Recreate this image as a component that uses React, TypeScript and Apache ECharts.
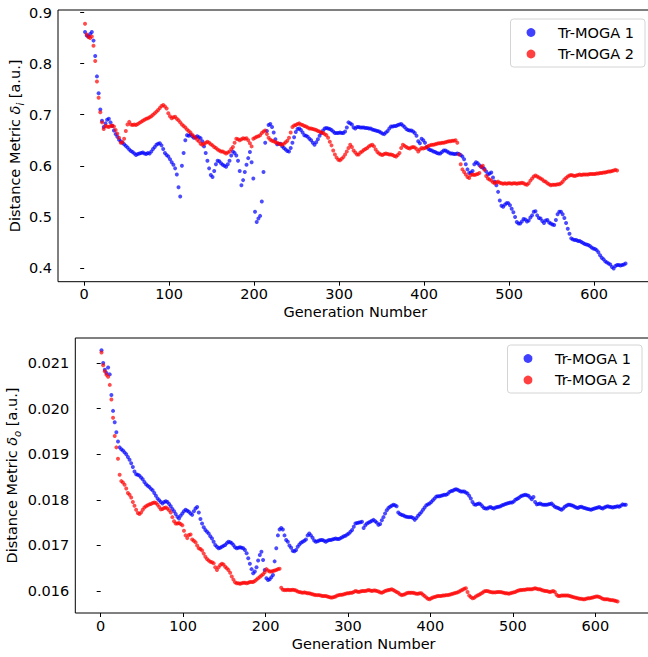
import React, { useEffect, useRef } from "react";
import * as echarts from "echarts";

// generations are sampled every GEN_STEP starting at GEN_START
const GEN_START = 1;
const GEN_STEP = 2;
const SERIES_NAMES = ["Tr-MOGA 1", "Tr-MOGA 2"];
const X_TICKS = [0, 100, 200, 300, 400, 500, 600];
const TOP_Y_TICKS = [0.4, 0.5, 0.6, 0.7, 0.8, 0.9];
const BOTTOM_Y_TICKS = [0.016, 0.017, 0.018, 0.019, 0.02, 0.021];

// Distance metric delta_i, Tr-MOGA 1 (gens 1..637, step 2)
const deltaI_moga1 = [
  0.862, 0.855, 0.853, 0.858, 0.862, 0.845, 0.815, 0.775, 0.742, 0.710,
  0.688, 0.676, 0.683, 0.690, 0.692, 0.685, 0.678, 0.669, 0.662, 0.657,
  0.651, 0.648, 0.645, 0.642, 0.639, 0.636, 0.632, 0.629, 0.627, 0.624,
  0.621, 0.623, 0.624, 0.625, 0.626, 0.624, 0.623, 0.625, 0.624, 0.628,
  0.633, 0.637, 0.641, 0.643, 0.644, 0.640, 0.633, 0.625, 0.621, 0.618,
  0.613, 0.607, 0.602, 0.595, 0.583, 0.558, 0.540, 0.600, 0.625, 0.650,
  0.660, 0.659, 0.661, 0.658, 0.655, 0.656, 0.658, 0.656, 0.654, 0.648,
  0.638, 0.625, 0.610, 0.595, 0.582, 0.578, 0.590, 0.603, 0.610, 0.609,
  0.605, 0.602, 0.600, 0.598, 0.603, 0.610, 0.620, 0.628, 0.625, 0.620,
  0.610, 0.590, 0.562, 0.572, 0.588, 0.602, 0.615, 0.627, 0.607, 0.575,
  0.510, 0.490, 0.497, 0.502, 0.530, 0.588, 0.645, 0.668, 0.680, 0.682,
  0.676, 0.665, 0.652, 0.642, 0.643, 0.643, 0.638, 0.635, 0.632, 0.629,
  0.628, 0.635, 0.645, 0.656, 0.666, 0.672, 0.673, 0.670, 0.665, 0.660,
  0.659, 0.657, 0.653, 0.650, 0.645, 0.641, 0.646, 0.652, 0.659, 0.664,
  0.669, 0.673, 0.674, 0.673, 0.672, 0.670, 0.667, 0.664, 0.664, 0.664,
  0.665, 0.664, 0.664, 0.667, 0.675, 0.685, 0.683, 0.681, 0.675, 0.673,
  0.676, 0.676, 0.675, 0.675, 0.675, 0.674, 0.674, 0.673, 0.673, 0.671,
  0.670, 0.669, 0.668, 0.667, 0.665, 0.663, 0.662, 0.665, 0.668, 0.673,
  0.677, 0.677, 0.678, 0.678, 0.680, 0.681, 0.682, 0.679, 0.676, 0.672,
  0.670, 0.669, 0.669, 0.667, 0.664, 0.659, 0.648, 0.644, 0.653, 0.650,
  0.645, 0.637, 0.633, 0.631, 0.630, 0.628, 0.627, 0.625, 0.624, 0.624,
  0.627, 0.630, 0.630, 0.628, 0.626, 0.624, 0.624, 0.623, 0.623, 0.624,
  0.623, 0.621, 0.618, 0.613, 0.603, 0.593, 0.586, 0.587, 0.590, 0.603,
  0.607, 0.605, 0.601, 0.598, 0.596, 0.594, 0.589, 0.583, 0.585, 0.587,
  0.577, 0.569, 0.562, 0.549, 0.532, 0.522, 0.520, 0.524, 0.527, 0.527,
  0.523, 0.516, 0.509, 0.500, 0.490, 0.487, 0.487, 0.491, 0.496, 0.495,
  0.491, 0.493, 0.499, 0.503, 0.510, 0.511, 0.503, 0.498, 0.497, 0.492,
  0.488, 0.493, 0.494, 0.489, 0.487, 0.485, 0.484, 0.494, 0.505, 0.510,
  0.510, 0.505, 0.498, 0.488, 0.477, 0.467, 0.458, 0.456, 0.455, 0.455,
  0.453, 0.453, 0.451, 0.449, 0.447, 0.446, 0.445, 0.443, 0.440, 0.438,
  0.437, 0.435, 0.431, 0.425, 0.420, 0.417, 0.413, 0.411, 0.409, 0.407,
  0.402, 0.399, 0.404, 0.406, 0.406, 0.405, 0.406, 0.407, 0.409,
];

// Distance metric delta_i, Tr-MOGA 2 (gens 1..627, step 2)
const deltaI_moga2 = [
  0.878, 0.857, 0.852, 0.850, 0.853, 0.835, 0.805, 0.765, 0.733, 0.705,
  0.685, 0.672, 0.678, 0.677, 0.676, 0.678, 0.679, 0.677, 0.670, 0.663,
  0.655, 0.645, 0.646, 0.653, 0.668, 0.681, 0.686, 0.681, 0.680, 0.681,
  0.680, 0.682, 0.684, 0.686, 0.688, 0.690, 0.692, 0.693, 0.695, 0.697,
  0.700, 0.703, 0.706, 0.709, 0.713, 0.717, 0.719, 0.716, 0.712, 0.703,
  0.697, 0.693, 0.695, 0.696, 0.692, 0.689, 0.685, 0.681, 0.678, 0.675,
  0.671, 0.668, 0.665, 0.661, 0.658, 0.655, 0.651, 0.648, 0.643, 0.641,
  0.643, 0.645, 0.647, 0.645, 0.642, 0.640, 0.637, 0.635, 0.632, 0.630,
  0.628, 0.628, 0.626, 0.624, 0.626, 0.628, 0.633, 0.637, 0.645, 0.653,
  0.652, 0.650, 0.652, 0.654, 0.653, 0.654, 0.650, 0.644, 0.638, 0.653,
  0.655, 0.657, 0.658, 0.660, 0.664, 0.667, 0.669, 0.662, 0.655, 0.651,
  0.649, 0.648, 0.646, 0.645, 0.643, 0.642, 0.641, 0.643, 0.646, 0.649,
  0.655, 0.665, 0.676, 0.679, 0.680, 0.682, 0.683, 0.681, 0.680, 0.678,
  0.677, 0.675, 0.673, 0.673, 0.672, 0.671, 0.670, 0.668, 0.667, 0.665,
  0.664, 0.662, 0.660, 0.655, 0.647, 0.640, 0.630, 0.622, 0.616, 0.612,
  0.611, 0.614, 0.617, 0.622, 0.628, 0.635, 0.641, 0.637, 0.630, 0.626,
  0.622, 0.622, 0.626, 0.628, 0.631, 0.633, 0.635, 0.638, 0.640, 0.641,
  0.638, 0.632, 0.627, 0.624, 0.622, 0.621, 0.623, 0.624, 0.623, 0.622,
  0.622, 0.621, 0.619, 0.618, 0.621, 0.625, 0.635, 0.641, 0.639, 0.637,
  0.635, 0.634, 0.636, 0.637, 0.636, 0.633, 0.628, 0.632, 0.635, 0.634,
  0.635, 0.637, 0.639, 0.640, 0.641, 0.641, 0.642, 0.643, 0.644, 0.644,
  0.645, 0.645, 0.646, 0.647, 0.648, 0.648, 0.649, 0.649, 0.650, 0.645,
  0.622, 0.603, 0.593, 0.588, 0.583, 0.578, 0.576, 0.582, 0.583, 0.582,
  0.583, 0.584, 0.586, 0.598, 0.600, 0.592, 0.580, 0.575, 0.573, 0.571,
  0.568, 0.566, 0.568, 0.569, 0.567, 0.566, 0.565, 0.566, 0.565, 0.566,
  0.566, 0.565, 0.566, 0.566, 0.565, 0.566, 0.566, 0.567, 0.566, 0.564,
  0.563, 0.566, 0.571, 0.575, 0.579, 0.581, 0.579, 0.577, 0.575, 0.573,
  0.570, 0.569, 0.566, 0.564, 0.562, 0.563, 0.563, 0.563, 0.564, 0.564,
  0.566, 0.569, 0.573, 0.576, 0.579, 0.581, 0.582, 0.581, 0.580, 0.581,
  0.582, 0.583, 0.582, 0.583, 0.583, 0.583, 0.583, 0.584, 0.584, 0.584,
  0.584, 0.585, 0.585, 0.586, 0.586, 0.587, 0.587, 0.588, 0.589, 0.589,
  0.590, 0.591, 0.592, 0.591,
];

// Distance metric delta_o, Tr-MOGA 1 (gens 1..637, step 2)
const deltaO_moga1 = [
  0.02128, 0.02100, 0.02085, 0.02078, 0.02090, 0.02075, 0.02030, 0.01995, 0.01970, 0.01948,
  0.01928, 0.01915, 0.01911, 0.01908, 0.01904, 0.01900, 0.01894, 0.01888, 0.01880, 0.01872,
  0.01862, 0.01856, 0.01855, 0.01853, 0.01849, 0.01845, 0.01839, 0.01834, 0.01831, 0.01828,
  0.01824, 0.01821, 0.01815, 0.01809, 0.01803, 0.01799, 0.01795, 0.01792, 0.01795, 0.01797,
  0.01795, 0.01791, 0.01786, 0.01780, 0.01775, 0.01769, 0.01763, 0.01759, 0.01765, 0.01770,
  0.01775, 0.01778, 0.01776, 0.01774, 0.01770, 0.01767, 0.01775, 0.01781, 0.01784, 0.01772,
  0.01758, 0.01748, 0.01740, 0.01734, 0.01730, 0.01726, 0.01720, 0.01715, 0.01708, 0.01701,
  0.01697, 0.01694, 0.01695, 0.01697, 0.01699, 0.01701, 0.01705, 0.01708, 0.01707, 0.01705,
  0.01701, 0.01696, 0.01694, 0.01695, 0.01696, 0.01695, 0.01694, 0.01690, 0.01683, 0.01672,
  0.01660, 0.01648, 0.01639, 0.01643, 0.01652, 0.01667, 0.01679, 0.01686, 0.01668, 0.01646,
  0.01628, 0.01624, 0.01626, 0.01630, 0.01635, 0.01665, 0.01694, 0.01722, 0.01735, 0.01738,
  0.01735, 0.01722, 0.01712, 0.01708, 0.01700, 0.01695, 0.01688, 0.01687, 0.01690, 0.01697,
  0.01702, 0.01706, 0.01708, 0.01710, 0.01713, 0.01722, 0.01726, 0.01722, 0.01717, 0.01711,
  0.01708, 0.01709, 0.01711, 0.01712, 0.01712, 0.01710, 0.01708, 0.01710, 0.01712, 0.01712,
  0.01713, 0.01714, 0.01715, 0.01714, 0.01714, 0.01716, 0.01718, 0.01720, 0.01721, 0.01724,
  0.01726, 0.01730, 0.01734, 0.01741, 0.01748, 0.01749, 0.01750, 0.01751, 0.01752, 0.01738,
  0.01744, 0.01748, 0.01750, 0.01752, 0.01754, 0.01756, 0.01753, 0.01750, 0.01745, 0.01747,
  0.01755, 0.01762, 0.01770, 0.01777, 0.01782, 0.01785, 0.01787, 0.01789, 0.01788, 0.01786,
  0.01772, 0.01769, 0.01767, 0.01766, 0.01764, 0.01763, 0.01762, 0.01762, 0.01762, 0.01760,
  0.01756, 0.01760, 0.01765, 0.01769, 0.01773, 0.01778, 0.01783, 0.01788, 0.01790, 0.01792,
  0.01795, 0.01799, 0.01803, 0.01807, 0.01808, 0.01808, 0.01809, 0.01810, 0.01811, 0.01811,
  0.01813, 0.01817, 0.01819, 0.01820, 0.01822, 0.01823, 0.01822, 0.01820, 0.01818, 0.01818,
  0.01818, 0.01816, 0.01814, 0.01809, 0.01803, 0.01795, 0.01790, 0.01789, 0.01791, 0.01792,
  0.01790, 0.01786, 0.01782, 0.01781, 0.01781, 0.01783, 0.01784, 0.01782, 0.01781, 0.01783,
  0.01784, 0.01785, 0.01786, 0.01788, 0.01789, 0.01791, 0.01792, 0.01793, 0.01794, 0.01794,
  0.01796, 0.01800, 0.01802, 0.01804, 0.01807, 0.01809, 0.01810, 0.01811, 0.01810, 0.01809,
  0.01805, 0.01801, 0.01806, 0.01795, 0.01790, 0.01791, 0.01792, 0.01790, 0.01789, 0.01789,
  0.01789, 0.01790, 0.01791, 0.01792, 0.01788, 0.01785, 0.01783, 0.01782, 0.01780, 0.01778,
  0.01781, 0.01785, 0.01787, 0.01789, 0.01789, 0.01788, 0.01787, 0.01785, 0.01783, 0.01782,
  0.01784, 0.01785, 0.01783, 0.01782, 0.01781, 0.01780, 0.01779, 0.01778, 0.01780, 0.01781,
  0.01782, 0.01783, 0.01784, 0.01782, 0.01781, 0.01783, 0.01785, 0.01786, 0.01785, 0.01784,
  0.01783, 0.01784, 0.01785, 0.01786, 0.01785, 0.01787, 0.01790, 0.01789, 0.01789,
];

// Distance metric delta_o, Tr-MOGA 2 (gens 1..627, step 2)
const deltaO_moga2 = [
  0.02123, 0.02095, 0.02082, 0.02074, 0.02070, 0.02052, 0.02020, 0.01980, 0.01940, 0.01915,
  0.01890, 0.01855, 0.01841, 0.01838, 0.01833, 0.01825, 0.01815, 0.01811, 0.01805, 0.01795,
  0.01787, 0.01778, 0.01771, 0.01769, 0.01772, 0.01778, 0.01783, 0.01786, 0.01788, 0.01790,
  0.01791, 0.01793, 0.01794, 0.01793, 0.01789, 0.01784, 0.01779, 0.01780, 0.01782, 0.01783,
  0.01781, 0.01777, 0.01772, 0.01762, 0.01753, 0.01748, 0.01748, 0.01749, 0.01747, 0.01744,
  0.01732, 0.01722, 0.01716, 0.01723, 0.01724, 0.01713, 0.01710, 0.01707, 0.01700, 0.01694,
  0.01692, 0.01689, 0.01682, 0.01675, 0.01670, 0.01667, 0.01664, 0.01663, 0.01661, 0.01652,
  0.01646, 0.01652, 0.01657, 0.01660, 0.01658, 0.01653, 0.01650, 0.01646, 0.01640, 0.01632,
  0.01625, 0.01619, 0.01617, 0.01617, 0.01616, 0.01617, 0.01618, 0.01618, 0.01617, 0.01618,
  0.01620, 0.01620, 0.01620, 0.01622, 0.01625, 0.01628, 0.01631, 0.01634, 0.01637, 0.01641,
  0.01648, 0.01645, 0.01643, 0.01643, 0.01644, 0.01645, 0.01646, 0.01648, 0.01649, 0.01607,
  0.01603, 0.01602, 0.01602, 0.01603, 0.01602, 0.01602, 0.01603, 0.01602, 0.01601, 0.01599,
  0.01598, 0.01597, 0.01596, 0.01597, 0.01596, 0.01595, 0.01595, 0.01594, 0.01593, 0.01592,
  0.01591, 0.01591, 0.01591, 0.01590, 0.01589, 0.01589, 0.01589, 0.01588, 0.01587, 0.01586,
  0.01586, 0.01587, 0.01588, 0.01590, 0.01591, 0.01592, 0.01592, 0.01593, 0.01594, 0.01595,
  0.01595, 0.01596, 0.01596, 0.01598, 0.01600, 0.01599, 0.01598, 0.01599, 0.01600, 0.01600,
  0.01600, 0.01601, 0.01602, 0.01601, 0.01600, 0.01601, 0.01601, 0.01600, 0.01599, 0.01597,
  0.01596, 0.01598, 0.01600, 0.01601, 0.01602, 0.01603, 0.01604, 0.01602, 0.01600, 0.01598,
  0.01596, 0.01593, 0.01591, 0.01592, 0.01593, 0.01595, 0.01596, 0.01596, 0.01596, 0.01596,
  0.01595, 0.01594, 0.01594, 0.01595, 0.01595, 0.01592, 0.01589, 0.01586, 0.01583, 0.01582,
  0.01584, 0.01586, 0.01587, 0.01588, 0.01589, 0.01589, 0.01589, 0.01590, 0.01590, 0.01591,
  0.01591, 0.01592, 0.01593, 0.01594, 0.01595, 0.01596, 0.01597, 0.01599, 0.01601, 0.01603,
  0.01605, 0.01606, 0.01598, 0.01590, 0.01587, 0.01584, 0.01585, 0.01588, 0.01590, 0.01592,
  0.01594, 0.01596, 0.01599, 0.01600, 0.01600, 0.01599, 0.01598, 0.01597, 0.01597, 0.01597,
  0.01598, 0.01598, 0.01598, 0.01597, 0.01596, 0.01595, 0.01595, 0.01594, 0.01595, 0.01596,
  0.01597, 0.01598, 0.01600, 0.01601, 0.01602, 0.01602, 0.01603, 0.01603, 0.01604, 0.01604,
  0.01604, 0.01604, 0.01605, 0.01606, 0.01605, 0.01604, 0.01604, 0.01602, 0.01601, 0.01600,
  0.01600, 0.01599, 0.01598, 0.01599, 0.01600, 0.01598, 0.01592, 0.01589, 0.01589, 0.01590,
  0.01590, 0.01590, 0.01590, 0.01590, 0.01589, 0.01588, 0.01587, 0.01586, 0.01585, 0.01584,
  0.01583, 0.01583, 0.01582, 0.01582, 0.01583, 0.01584, 0.01584, 0.01585, 0.01586, 0.01587,
  0.01588, 0.01588, 0.01587, 0.01585, 0.01583, 0.01582, 0.01582, 0.01582, 0.01581, 0.01580,
  0.01580, 0.01579, 0.01578, 0.01577,
];

const FONT = "DejaVu Sans";
const FS = 14.5;
const COLORS = ["#0000ff", "#ff0000"];

const toPoints = (vals: number[]) => vals.map((v, i) => [GEN_START + GEN_STEP * i, v]);

function makeLegend(left: number, top: number) {
  const items: any[] = [
    {
      type: "rect",
      z: 100,
      shape: { x: left, y: top, width: 134.5, height: 48, r: 3 },
      style: { fill: "rgba(255,255,255,0.8)", stroke: "#d4d4d4", lineWidth: 1 },
    },
  ];
  SERIES_NAMES.forEach((name, i) => {
    const cy = top + 13.5 + i * 21.5;
    items.push({
      type: "circle",
      z: 101,
      shape: { cx: left + 20.5, cy, r: 4.4 },
      style: { fill: COLORS[i], opacity: 0.75 },
    });
    items.push({
      type: "text",
      z: 101,
      x: left + 47.5,
      y: cy,
      style: {
        text: name,
        fontSize: FS,
        fontFamily: FONT,
        fill: "#000",
        verticalAlign: "middle",
        textVerticalAlign: "middle",
      },
    });
  });
  return items;
}

export default function App() {
  const ref = useRef<HTMLDivElement>(null);
  useEffect(() => {
    if (!ref.current) return;
    const chart = echarts.init(ref.current, undefined, { renderer: "svg" });
    const X_MIN = -30.8;
    const X_MAX = 668.8;
    const textStyle = { color: "#000", fontSize: FS, fontFamily: FONT };
    const xAxisFor = (gridIndex: number, nameGap: number) => ({
      type: "value",
      gridIndex,
      min: X_MIN,
      max: X_MAX,
      axisLine: { show: false },
      splitLine: { show: false },
      axisTick: { show: true, length: 4, lineStyle: { color: "#000", width: 1 }, customValues: X_TICKS },
      axisLabel: { ...textStyle, margin: 5, customValues: X_TICKS, formatter: (v: number) => String(v) },
      name: "Generation Number",
      nameLocation: "middle",
      nameGap,
      nameTextStyle: textStyle,
    });
    const yName = (sub: string) => `{t|Distance Metric }{d|δ}{s|${sub}}{t| [a.u.]}`;
    const yRich = {
      t: { fontSize: FS, fontFamily: FONT, color: "#000", lineHeight: 20 },
      d: { fontSize: FS, fontFamily: FONT, color: "#000", fontStyle: "italic", lineHeight: 20 },
      s: { fontSize: 10, fontFamily: FONT, color: "#000", fontStyle: "italic", verticalAlign: "bottom", lineHeight: 20 },
    };
    const option: any = {
      animation: false,
      backgroundColor: "#ffffff",
      grid: [
        { left: 58, top: 10, width: 594.6, height: 271.7, show: true, borderColor: "#000", borderWidth: 1, containLabel: false, outerBoundsMode: "none" },
        { left: 75.3, top: 338, width: 576.7, height: 275, show: true, borderColor: "#000", borderWidth: 1, containLabel: false, outerBoundsMode: "none" },
      ],
      xAxis: [xAxisFor(0, 23), xAxisFor(1, 23)],
      yAxis: [
        {
          type: "value",
          gridIndex: 0,
          min: 0.3732,
          max: 0.9049,
          axisLine: { show: false },
          splitLine: { show: false },
          axisTick: { show: true, length: 4, lineStyle: { color: "#000", width: 1 }, customValues: TOP_Y_TICKS },
          axisLabel: { ...textStyle, margin: 6, customValues: TOP_Y_TICKS, formatter: (v: number) => v.toFixed(1) },
          name: yName("i"),
          nameLocation: "middle",
          nameGap: 33,
          nameMoveOverlap: false,
          nameTextStyle: { rich: yRich },
        },
        {
          type: "value",
          gridIndex: 1,
          min: 0.015518,
          max: 0.021548,
          axisLine: { show: false },
          splitLine: { show: false },
          axisTick: { show: true, length: 4, lineStyle: { color: "#000", width: 1 }, customValues: BOTTOM_Y_TICKS },
          axisLabel: { ...textStyle, margin: 6, customValues: BOTTOM_Y_TICKS, formatter: (v: number) => v.toFixed(3) },
          name: yName("o"),
          nameLocation: "middle",
          nameGap: 53,
          nameMoveOverlap: false,
          nameTextStyle: { rich: yRich },
        },
      ],
      series: [
        { data: deltaI_moga1, color: COLORS[0], name: SERIES_NAMES[0], x: 0 },
        { data: deltaI_moga2, color: COLORS[1], name: SERIES_NAMES[1], x: 0 },
        { data: deltaO_moga1, color: COLORS[0], name: SERIES_NAMES[0], x: 1 },
        { data: deltaO_moga2, color: COLORS[1], name: SERIES_NAMES[1], x: 1 },
      ].map((s) => ({
        type: "scatter",
        name: s.name,
        xAxisIndex: s.x,
        yAxisIndex: s.x,
        data: toPoints(s.data),
        symbol: "circle",
        symbolSize: 4,
        silent: true,
        itemStyle: { color: s.color, opacity: 0.7 },
      })),
      graphic: [...makeLegend(510.5, 19), ...makeLegend(507.5, 345)],
    };
    chart.setOption(option);
    return () => chart.dispose();
  }, []);
  return (
    <div style={{ position: "absolute", left: 0, top: 0, width: 648, height: 657, overflow: "hidden", background: "#fff" }}>
      <div ref={ref} style={{ width: 662, height: 657 }} />
    </div>
  );
}
